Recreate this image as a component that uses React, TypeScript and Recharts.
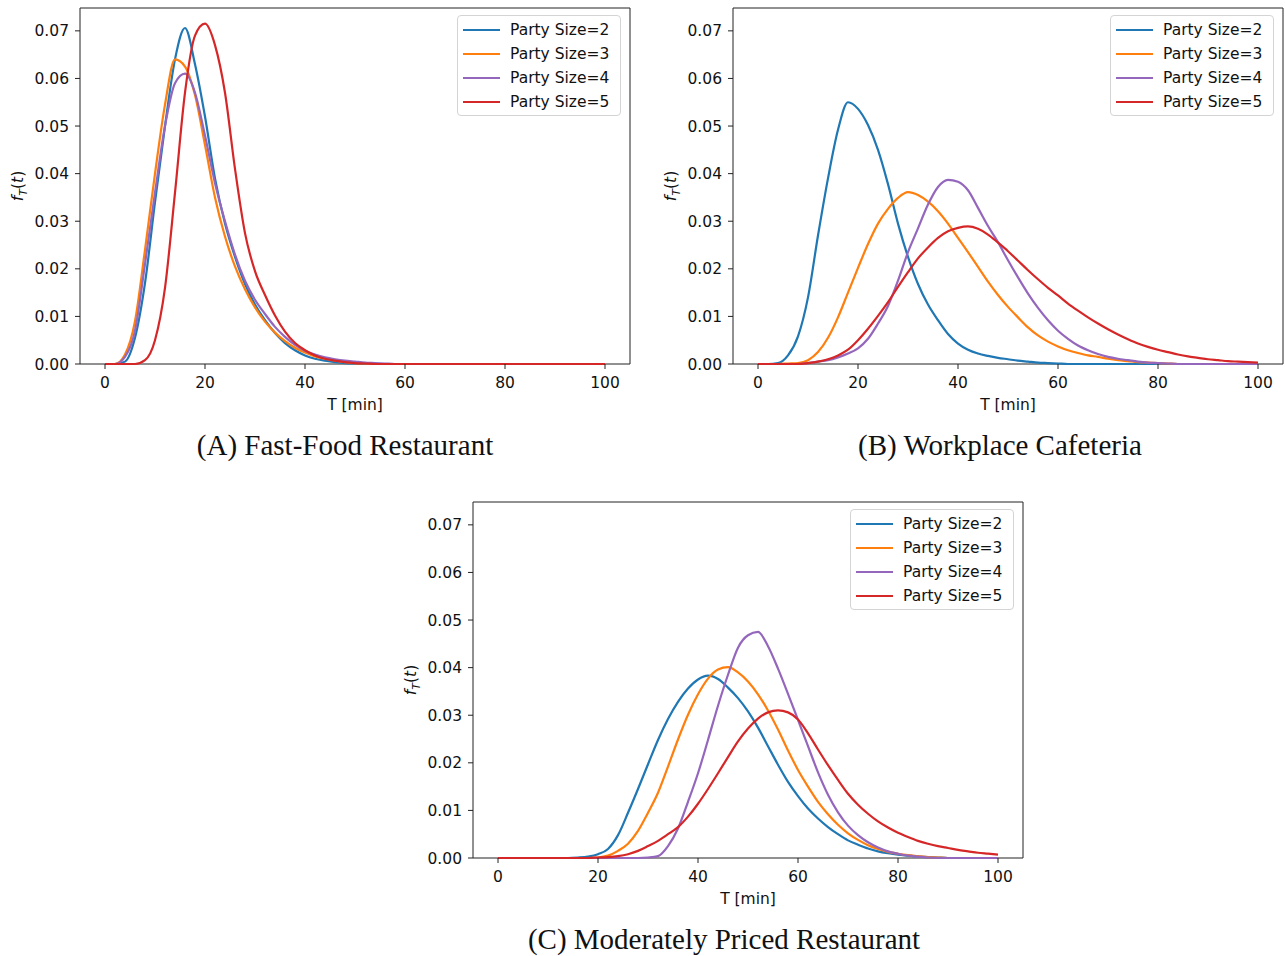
import React from 'react';
import { LineChart, Line, XAxis, YAxis, Legend, ReferenceArea } from 'recharts';

// time grid (minutes), shared by every panel
const TIME = [
  0, 2, 4, 6, 8, 10, 12, 14, 16, 18,
  20, 22, 24, 26, 28, 30, 32, 34, 36, 38,
  40, 42, 44, 46, 48, 50, 52, 54, 56, 58,
  60, 62, 64, 66, 68, 70, 72, 74, 76, 78,
  80, 82, 84, 86, 88, 90, 92, 94, 96, 98,
  100,
];

const X_TICKS = [0, 20, 40, 60, 80, 100];
const Y_TICKS = [0, 0.01, 0.02, 0.03, 0.04, 0.05, 0.06, 0.07];
const Y_MAX = 0.0748;

const SERIES_NAMES = ['Party Size=2', 'Party Size=3', 'Party Size=4', 'Party Size=5'];
const SERIES_COLORS = ['#1f77b4', '#ff7f0e', '#9467bd', '#d62728'];

// (A) Fast-Food Restaurant
const A_SIZE2 = [
  0, 0, 0.0005, 0.0055, 0.017, 0.034, 0.05, 0.064, 0.0706, 0.063,
  0.052, 0.039, 0.0295, 0.0225, 0.0168, 0.0125, 0.0092, 0.0065, 0.0044, 0.0029,
  0.0018, 0.0011, 0.0007, 0.0004, 0.0002, 0.0001, 0, 0, 0, 0,
  0, 0, 0, 0, 0, 0, 0, 0, 0, 0,
  0, 0, 0, 0, 0, 0, 0, 0, 0, 0,
  0,
];
const A_SIZE3 = [
  0, 0, 0.002, 0.009, 0.024, 0.04, 0.0545, 0.064, 0.0625, 0.0565,
  0.046, 0.035, 0.0268, 0.0205, 0.0157, 0.0119, 0.0089, 0.0066, 0.0048, 0.0034,
  0.0024, 0.0016, 0.0011, 0.0007, 0.0004, 0.0002, 0.0001, 0, 0, 0,
  0, 0, 0, 0, 0, 0, 0, 0, 0, 0,
  0, 0, 0, 0, 0, 0, 0, 0, 0, 0,
  0,
];
const A_SIZE4 = [
  0, 0, 0.0015, 0.007, 0.021, 0.036, 0.05, 0.059, 0.061, 0.057,
  0.048, 0.038, 0.03, 0.023, 0.0175, 0.0135, 0.0105, 0.0078, 0.0057, 0.004,
  0.0028, 0.002, 0.0014, 0.001, 0.0007, 0.0005, 0.0003, 0.0002, 0.0001, 0,
  0, 0, 0, 0, 0, 0, 0, 0, 0, 0,
  0, 0, 0, 0, 0, 0, 0, 0, 0, 0,
  0,
];
const A_SIZE5 = [
  0, 0, 0, 0, 0.0008, 0.005, 0.016, 0.036, 0.057, 0.069,
  0.0715, 0.067, 0.057, 0.041, 0.0275, 0.0195, 0.0145, 0.0102, 0.0068, 0.0044,
  0.0029, 0.0018, 0.0011, 0.0007, 0.0004, 0.0002, 0.0001, 0, 0, 0,
  0, 0, 0, 0, 0, 0, 0, 0, 0, 0,
  0, 0, 0, 0, 0, 0, 0, 0, 0, 0,
  0,
];

// (B) Workplace Cafeteria
const B_SIZE2 = [
  0, 0, 0.0002, 0.0018, 0.0058, 0.014, 0.027, 0.039, 0.0492, 0.055,
  0.0536, 0.0502, 0.045, 0.0378, 0.0295, 0.0225, 0.0168, 0.0125, 0.0092, 0.0063,
  0.0043, 0.003, 0.0022, 0.0017, 0.0013, 0.001, 0.0007, 0.0005, 0.0003, 0.0002,
  0.0001, 0, 0, 0, 0, 0, 0, 0, 0, 0,
  0, 0, 0, 0, 0, 0, 0, 0, 0, 0,
  0,
];
const B_SIZE3 = [
  0, 0, 0, 0.0001, 0.0002, 0.0008, 0.0025, 0.0055, 0.0098, 0.015,
  0.0202, 0.0252, 0.0295, 0.0326, 0.0349, 0.0361, 0.0355, 0.0341, 0.0321, 0.0295,
  0.0265, 0.0235, 0.0204, 0.0173, 0.0145, 0.012, 0.0098, 0.0077, 0.006, 0.0047,
  0.0037, 0.0029, 0.0023, 0.0018, 0.0015, 0.0011, 0.0008, 0.0006, 0.0004, 0.0003,
  0.0002, 0.0001, 0, 0, 0, 0, 0, 0, 0, 0,
  0,
];
const B_SIZE4 = [
  0, 0, 0, 0, 0, 0.0002, 0.0005, 0.0008, 0.0014, 0.0022,
  0.0033, 0.0053, 0.0085, 0.0122, 0.0175, 0.0235, 0.0285, 0.0335, 0.0372, 0.0387,
  0.0383, 0.0365, 0.0328, 0.029, 0.0256, 0.0218, 0.0182, 0.0148, 0.0118, 0.0092,
  0.007, 0.0053, 0.0039, 0.0029, 0.0021, 0.0015, 0.0011, 0.0008, 0.0005, 0.0003,
  0.0002, 0.0001, 0, 0, 0, 0, 0, 0, 0, 0,
  0,
];
const B_SIZE5 = [
  0, 0, 0, 0, 0, 0.0002, 0.0005, 0.001, 0.0018, 0.003,
  0.005, 0.0074, 0.0101, 0.013, 0.0162, 0.0193, 0.0222, 0.0245, 0.0265, 0.0279,
  0.0286, 0.0289, 0.0284, 0.0272, 0.0255, 0.0237, 0.0217, 0.0197, 0.0178, 0.016,
  0.0144, 0.0127, 0.0112, 0.0098, 0.0085, 0.0073, 0.0062, 0.0052, 0.0043, 0.0036,
  0.003, 0.0025, 0.002, 0.0016, 0.0013, 0.001, 0.0008, 0.0006, 0.0005, 0.0004,
  0.0003,
];

// (C) Moderately Priced Restaurant
const C_SIZE2 = [
  0, 0, 0, 0, 0, 0, 0, 0, 0.0001, 0.0003,
  0.0008, 0.0019, 0.0048, 0.0095, 0.0145, 0.0197, 0.0248, 0.0292, 0.0328, 0.0356,
  0.0375, 0.0383, 0.0376, 0.0358, 0.0336, 0.0308, 0.0274, 0.0235, 0.0196, 0.016,
  0.013, 0.0104, 0.0083, 0.0065, 0.005, 0.0037, 0.0028, 0.002, 0.0014, 0.001,
  0.0007, 0.0005, 0.0003, 0.0002, 0.0001, 0, 0, 0, 0, 0,
  0,
];
const C_SIZE3 = [
  0, 0, 0, 0, 0, 0, 0, 0, 0, 0,
  0.0001, 0.0005, 0.0015, 0.003, 0.0057, 0.0095, 0.0137, 0.0192, 0.0249, 0.0301,
  0.0344, 0.0377, 0.0396, 0.0401, 0.039, 0.0371, 0.0344, 0.031, 0.027, 0.0226,
  0.0185, 0.015, 0.0118, 0.0092, 0.007, 0.0052, 0.0038, 0.0027, 0.0019, 0.0013,
  0.0009, 0.0006, 0.0004, 0.0002, 0.0001, 0, 0, 0, 0, 0,
  0,
];
const C_SIZE4 = [
  0, 0, 0, 0, 0, 0, 0, 0, 0, 0,
  0, 0, 0, 0, 0, 0.0001, 0.0004, 0.0025, 0.0062, 0.0118,
  0.0178, 0.0248, 0.032, 0.0385, 0.0442, 0.0468, 0.0475, 0.0445, 0.0398, 0.0345,
  0.029, 0.0235, 0.018, 0.0133, 0.0096, 0.0068, 0.0048, 0.0033, 0.0022, 0.0014,
  0.0009, 0.0005, 0.0003, 0.0001, 0, 0, 0, 0, 0, 0,
  0,
];
const C_SIZE5 = [
  0, 0, 0, 0, 0, 0, 0, 0, 0, 0,
  0.0001, 0.0002, 0.0004, 0.0008, 0.0015, 0.0025, 0.0036, 0.005, 0.0065, 0.0087,
  0.0114, 0.0145, 0.0178, 0.0212, 0.0245, 0.0272, 0.0293, 0.0306, 0.031, 0.0306,
  0.0291, 0.0262, 0.0228, 0.0195, 0.0164, 0.0135, 0.0112, 0.0093, 0.0077, 0.0064,
  0.0053, 0.0044, 0.0036, 0.003, 0.0025, 0.0021, 0.0017, 0.0014, 0.0011, 0.0009,
  0.0007,
];

const FONT = '"DejaVu Sans", sans-serif';
const TICK_STYLE = { fontFamily: FONT, fontSize: 15.5, fill: '#111' };

// panel placement on the page
const PANELS = [
  { title: '(A) Fast-Food Restaurant', series: [A_SIZE2, A_SIZE3, A_SIZE4, A_SIZE5], left: 0, top: 0, titleCenter: 345 },
  { title: '(B) Workplace Cafeteria', series: [B_SIZE2, B_SIZE3, B_SIZE4, B_SIZE5], left: 653, top: 0, titleCenter: 347 },
  { title: '(C) Moderately Priced Restaurant', series: [C_SIZE2, C_SIZE3, C_SIZE4, C_SIZE5], left: 393, top: 494, titleCenter: 331 },
];

const YLabel = ({ viewBox }: any) => {
  const x = viewBox.x + 23;
  const y = viewBox.y + viewBox.height / 2;
  return (
    <text
      x={x}
      y={y}
      transform={`rotate(-90, ${x}, ${y})`}
      textAnchor="middle"
      fontFamily={FONT}
      fontSize={15.5}
      fill="#111"
    >
      <tspan fontStyle="italic">f</tspan>
      <tspan fontStyle="italic" fontSize={11} dy={4}>T</tspan>
      <tspan dy={-4}>(</tspan>
      <tspan fontStyle="italic">t</tspan>
      <tspan>)</tspan>
    </text>
  );
};

const XLabel = ({ viewBox }: any) => (
  <text
    x={viewBox.x + viewBox.width / 2}
    y={viewBox.y + 46}
    textAnchor="middle"
    fontFamily={FONT}
    fontSize={15.5}
    fill="#111"
  >
    T [min]
  </text>
);

const LegendBox = ({ payload }: any) => (
  <div
    style={{
      boxSizing: 'border-box',
      width: 164,
      height: 101,
      border: '1px solid #d4d4d4',
      borderRadius: 4,
      background: 'rgba(255,255,255,0.85)',
      padding: '2px 0 0 5px',
      fontFamily: FONT,
      fontSize: 15.5,
      color: '#111',
    }}
  >
    {(payload || []).map((entry: any) => (
      <div key={entry.value} style={{ display: 'flex', alignItems: 'center', height: 24 }}>
        <span style={{ display: 'inline-block', width: 37, borderTop: `2.2px solid ${entry.color}`, marginRight: 10 }} />
        <span>{entry.value}</span>
      </div>
    ))}
  </div>
);

function Panel({ title, series, left, top, titleCenter }: any) {
  const rows = TIME.map((t, i) => {
    const row: any = { t };
    series.forEach((s: number[], k: number) => {
      row['s' + k] = s[i];
    });
    return row;
  });

  return (
    <div style={{ position: 'absolute', left, top, width: 632, height: 462 }}>
      <LineChart width={632} height={420} data={rows} margin={{ top: 8, right: 2, bottom: 10, left: 0 }}>
        <XAxis
          dataKey="t"
          type="number"
          domain={[-5, 105]}
          ticks={X_TICKS}
          interval={0}
          axisLine={false}
          tickLine={{ stroke: '#222' }}
          tickSize={5}
          tickMargin={8}
          tick={TICK_STYLE}
          height={46}
          label={<XLabel />}
        />
        <YAxis
          type="number"
          domain={[0, Y_MAX]}
          ticks={Y_TICKS}
          interval={0}
          width={80}
          axisLine={false}
          tickLine={{ stroke: '#222' }}
          tickSize={5}
          tickMargin={6}
          tick={TICK_STYLE}
          tickFormatter={(v: number) => v.toFixed(2)}
          label={<YLabel />}
        />
        <ReferenceArea
          x1={-5}
          x2={105}
          y1={0}
          y2={Y_MAX}
          fill="#fff"
          fillOpacity={0}
          stroke="#222"
          strokeWidth={1}
          ifOverflow="visible"
        />
        {series.map((_: number[], k: number) => (
          <Line
            key={k}
            type="monotone"
            dataKey={'s' + k}
            name={SERIES_NAMES[k]}
            stroke={SERIES_COLORS[k]}
            strokeWidth={2.2}
            dot={false}
            activeDot={false}
            isAnimationActive={false}
          />
        ))}
        <Legend
          layout="vertical"
          align="center"
          verticalAlign="middle"
          wrapperStyle={{ top: 15, left: 457, width: 164, height: 101 }}
          content={<LegendBox />}
        />
      </LineChart>
      <div
        style={{
          position: 'absolute',
          left: titleCenter - 300,
          top: 428,
          width: 600,
          textAlign: 'center',
          fontFamily: '"Palatino Linotype", Palatino, "Liberation Serif", serif',
          fontSize: 29,
          lineHeight: '34px',
          color: '#111',
        }}
      >
        {title}
      </div>
    </div>
  );
}

export default function App() {
  return (
    <div style={{ position: 'absolute', left: 0, top: 0, width: 1285, height: 956, background: '#fff', overflow: 'hidden' }}>
      {PANELS.map((p) => (
        <Panel key={p.title} {...p} />
      ))}
    </div>
  );
}
